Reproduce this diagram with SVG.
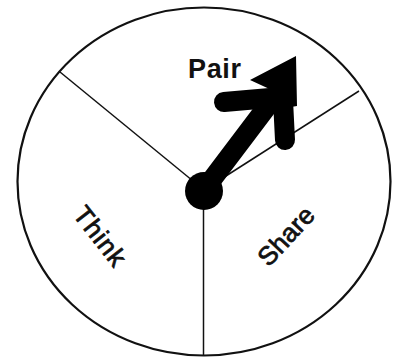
<svg xmlns="http://www.w3.org/2000/svg" width="394" height="360" viewBox="0 0 394 360">
<style>
.rim{fill:none;stroke:#111;stroke-width:2.2}
.div{stroke:#111;stroke-width:1.5;fill:none}
.lbl{font-family:"Liberation Sans",Arial,sans-serif;fill:#111;text-anchor:middle;dominant-baseline:central}
.heavy{stroke:#111;stroke-width:0.8}
.arm{stroke:#000;stroke-width:20;stroke-linecap:round;fill:none}
</style>
<rect width="394" height="360" fill="#fff"/>
<g id="wheel">
<ellipse class="rim" cx="204" cy="181.5" rx="186.5" ry="174"/>
</g>
<g id="connectors">
<line class="div" x1="204" y1="190" x2="60" y2="72"/>
<line class="div" x1="204" y1="190" x2="359" y2="91"/>
<line class="div" x1="203.5" y1="190" x2="203.5" y2="356"/>
</g>
<g id="think"><text class="lbl heavy" transform="translate(100 236) rotate(52)" font-size="26" textLength="68">Think</text></g>
<g id="share"><text class="lbl heavy" transform="translate(286 236) rotate(-47)" font-size="26" textLength="70">Share</text></g>
<g id="pair"><text class="lbl" x="214.5" y="69" font-size="27" font-weight="bold" textLength="53">Pair</text></g>
<g id="spinner">
<circle cx="204" cy="191" r="19" fill="#000"/>
<line class="arm" x1="204" y1="190" x2="272" y2="100"/>
<line class="arm" x1="224" y1="102" x2="270" y2="98"/>
<line class="arm" x1="285" y1="140" x2="283" y2="100"/>
<polygon points="296,56 250,80 276,92 285,108 297,106" fill="#000"/>
</g>
</svg>
